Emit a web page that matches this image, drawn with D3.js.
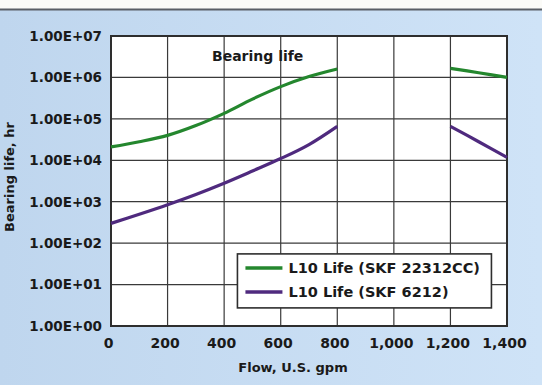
<!DOCTYPE html>
<html lang="en">
  <head>
    <meta charset="UTF-8" />
    <title>Bearing life</title>
    <script src="https://cdn.jsdelivr.net/npm/d3@7/dist/d3.min.js"></script>
    <style>
      body { margin: 0; background: #fff; }
      svg text { font-family: "DejaVu Sans", sans-serif; font-weight: bold; fill: #1a1a1a; }
    </style>
  </head>
  <body>
    <div id="chart"></div>
    <script>
      // values (null = gap in the curve)
      let flow = [0, 100, 200, 300, 400, 500, 600, 700, 800, 1000, 1200, 1300, 1400];
      let lifeSKF22312 = [2.1e4, 2.8e4, 4.0e4, 6.9e4, 1.36e5, 3.0e5, 6.0e5, 1.05e6, 1.6e6, null, 1.65e6, 1.3e6, 1.0e6];
      let lifeSKF6212 = [3.0e2, 5.0e2, 8.5e2, 1.5e3, 2.8e3, 5.5e3, 1.1e4, 2.4e4, 6.6e4, null, 6.6e4, 2.8e4, 1.17e4];
      let seriesNames = ["L10 Life (SKF 22312CC)", "L10 Life (SKF 6212)"];
      let seriesColors = ["#24872e", "#4f2a7e"];
      let xTicks = [0, 200, 400, 600, 800, 1000, 1200, 1400];
      let yTicks = [1, 10, 100, 1e3, 1e4, 1e5, 1e6, 1e7];

      let W = 542, H = 385;
      let margin = { top: 36, right: 35, bottom: 59, left: 111 };
      let width = W - margin.left - margin.right;
      let height = H - margin.top - margin.bottom;

      let svg = d3.select("#chart").append("svg")
        .attr("width", W).attr("height", H);

      // background
      let grad = svg.append("defs").append("linearGradient").attr("id", "bg");
      grad.append("stop").attr("offset", "0%").attr("stop-color", "#bfd6ee");
      grad.append("stop").attr("offset", "100%").attr("stop-color", "#cfe3f7");
      svg.append("rect").attr("width", W).attr("height", H).attr("fill", "url(#bg)");
      svg.append("rect").attr("width", W).attr("height", 9).attr("fill", "#fbfbf8");
      svg.append("line").attr("x1", 0).attr("x2", W).attr("y1", 9.5).attr("y2", 9.5)
        .attr("stroke", "#5a5f66").attr("stroke-width", 2);

      let g = svg.append("g").attr("transform", `translate(${margin.left},${margin.top})`);

      let x = d3.scaleLinear().domain([0, 1400]).range([0, width]);
      let y = d3.scaleLog().domain([1, 1e7]).range([height, 0]);

      g.append("rect").attr("width", width).attr("height", height).attr("fill", "#fff");

      // grid
      g.append("g").selectAll("line").data(xTicks).enter().append("line")
        .attr("x1", d => x(d)).attr("x2", d => x(d))
        .attr("y1", 0).attr("y2", height)
        .attr("stroke", "#3a3a3a").attr("stroke-width", 1.2);
      g.append("g").selectAll("line").data(yTicks).enter().append("line")
        .attr("x1", 0).attr("x2", width)
        .attr("y1", d => y(d)).attr("y2", d => y(d))
        .attr("stroke", "#3a3a3a").attr("stroke-width", 1.2);

      // axes
      let xAxis = g.append("g").attr("transform", `translate(0,${height})`)
        .call(d3.axisBottom(x).tickValues(xTicks).tickSize(0).tickPadding(12)
          .tickFormat(d3.format(",")));
      xAxis.select(".domain").remove();
      xAxis.selectAll("text").attr("font-size", 14).attr("dx", -3)
        .style("font-family", "DejaVu Sans").style("font-weight", "bold");

      let yAxis = g.append("g")
        .call(d3.axisLeft(y).tickValues(yTicks).tickSize(0).tickPadding(9)
          .tickFormat(d => d3.format(".2e")(d).replace("e", "E").replace(/E([+-])(\d)$/, "E$10$2")));
      yAxis.select(".domain").remove();
      yAxis.selectAll("text").attr("font-size", 13.5)
        .style("font-family", "DejaVu Sans").style("font-weight", "bold");

      g.append("rect").attr("width", width).attr("height", height)
        .attr("fill", "none").attr("stroke", "#2e2e2e").attr("stroke-width", 2);

      // curves
      let line = d3.line()
        .defined(d => d[1] !== null)
        .x(d => x(d[0])).y(d => y(d[1]))
        .curve(d3.curveCatmullRom);
      [lifeSKF22312, lifeSKF6212].forEach((vals, i) => {
        g.append("path")
          .datum(flow.map((f, j) => [f, vals[j]]))
          .attr("d", line)
          .attr("fill", "none")
          .attr("stroke", seriesColors[i])
          .attr("stroke-width", 3.2);
      });

      g.append("text").attr("x", x(357)).attr("y", 25)
        .attr("font-size", 14).text("Bearing life");

      // legend
      let lg = g.append("g").attr("transform", `translate(${x(447)},${y(55)})`);
      lg.append("rect").attr("width", 254).attr("height", 54)
        .attr("fill", "#fff").attr("stroke", "#2e2e2e").attr("stroke-width", 1.6);
      let item = lg.selectAll(".item").data(seriesNames).enter().append("g")
        .attr("transform", (d, i) => `translate(0,${14 + i * 24})`);
      item.append("line").attr("x1", 8).attr("x2", 45)
        .attr("stroke", (d, i) => seriesColors[i]).attr("stroke-width", 3.5);
      item.append("text").attr("x", 51).attr("dy", "0.36em")
        .attr("font-size", 14.5).text(d => d);

      // axis titles
      svg.append("text").attr("x", 293).attr("y", 372).attr("text-anchor", "middle")
        .attr("font-size", 13).text("Flow, U.S. gpm");
      svg.append("text").attr("transform", "translate(14,177) rotate(-90)")
        .attr("text-anchor", "middle").attr("font-size", 13).text("Bearing life, hr");
    </script>
  </body>
</html>
